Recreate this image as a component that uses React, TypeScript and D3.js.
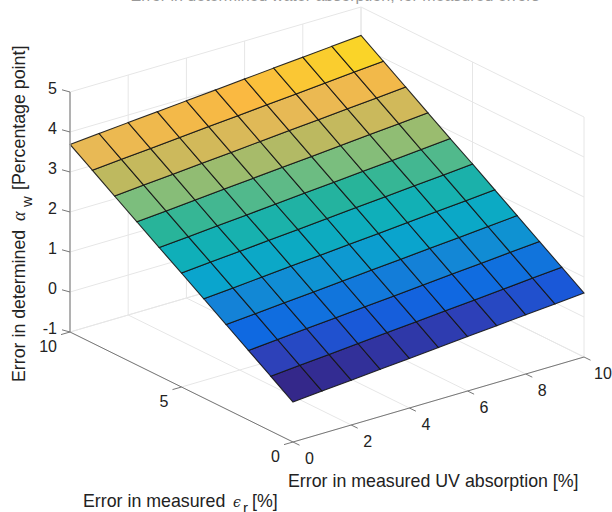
import React from "react";
import * as d3 from "d3";

// error in measured UV absorption [%]
const xValues = [0, 1, 2, 3, 4, 5, 6, 7, 8, 9, 10];
// error in measured epsilon_r [%]
const epsValues = [0, 1, 2, 3, 4, 5, 6, 7, 8, 9, 10];
// error in determined alpha_w, one row per epsilon value
const zRows = [
  [0.0, 0.06, 0.12, 0.18, 0.24, 0.3, 0.36, 0.42, 0.48, 0.54, 0.6],
  [0.37, 0.43, 0.49, 0.55, 0.61, 0.67, 0.73, 0.79, 0.85, 0.91, 0.97],
  [0.74, 0.8, 0.86, 0.92, 0.98, 1.04, 1.1, 1.16, 1.22, 1.28, 1.34],
  [1.11, 1.17, 1.23, 1.29, 1.35, 1.41, 1.47, 1.53, 1.59, 1.65, 1.71],
  [1.48, 1.54, 1.6, 1.66, 1.72, 1.78, 1.84, 1.9, 1.96, 2.02, 2.08],
  [1.85, 1.91, 1.97, 2.03, 2.09, 2.15, 2.21, 2.27, 2.33, 2.39, 2.45],
  [2.21, 2.27, 2.33, 2.39, 2.45, 2.51, 2.57, 2.63, 2.69, 2.75, 2.81],
  [2.58, 2.64, 2.7, 2.76, 2.82, 2.88, 2.94, 3.0, 3.06, 3.12, 3.18],
  [2.95, 3.01, 3.07, 3.13, 3.19, 3.25, 3.31, 3.37, 3.43, 3.49, 3.55],
  [3.32, 3.38, 3.44, 3.5, 3.56, 3.62, 3.68, 3.74, 3.8, 3.86, 3.92],
  [3.69, 3.75, 3.81, 3.87, 3.93, 3.99, 4.05, 4.11, 4.17, 4.23, 4.29],
];

const xTicks = [0, 2, 4, 6, 8, 10];
const epsTicks = [0, 5, 10];
const zTicks = [-1, 0, 1, 2, 3, 4, 5];

// colormap
const colorStops = [0, 0.37, 0.54, 0.74, 1.11, 1.48, 1.85, 2.21, 2.58, 2.95, 3.32, 3.62, 3.86];
const colorValues = [
  "#34288a", "#2d41b9", "#1a58d8", "#0f69e1", "#1482d7", "#0aa5cd", "#0fafb9",
  "#28b49a", "#7cbe7d", "#beb95f", "#e8b955", "#fab941", "#fad428",
];

const FONT = "'Liberation Sans', Arial, sans-serif";
const TEXT = "#222";

// orthographic view: each data axis moves the point along its own screen direction
const xToPx = d3.scaleLinear().domain([0, 10]).range([0, 291]);
const xToPy = d3.scaleLinear().domain([0, 10]).range([0, -85]);
const eToPx = d3.scaleLinear().domain([0, 10]).range([0, -223]);
const eToPy = d3.scaleLinear().domain([0, 10]).range([0, -110]);
const zToPy = d3.scaleLinear().domain([-1, 5]).range([0, -240]);
const originX = 293;
const originY = 442;

const project = (x: number, e: number, z: number): [number, number] => [
  originX + xToPx(x) + eToPx(e),
  originY + xToPy(x) + eToPy(e) + zToPy(z),
];

const color = d3
  .scaleLinear<string>()
  .domain(colorStops)
  .range(colorValues)
  .interpolate(d3.interpolateRgb)
  .clamp(true);

const line = d3.line();

const [x0, x1] = d3.extent(xValues) as [number, number];
const [e0, e1] = d3.extent(epsValues) as [number, number];
const zMin = zTicks[0];
const zMax = zTicks[zTicks.length - 1];

const Seg = ({ a, b, stroke, w = 1 }: any) => (
  <line x1={a[0]} y1={a[1]} x2={b[0]} y2={b[1]} stroke={stroke} strokeWidth={w} />
);

export default function App() {
  const grid = "#e6e6e6";
  const axis = "#777";

  const label = (p: [number, number], t: number, anchor = "middle") => (
    <text key={`${p[0]}-${t}`} x={p[0]} y={p[1]} textAnchor={anchor} fontSize={16} fill={TEXT}>
      {t}
    </text>
  );

  return (
    <svg
      width={612}
      height={512}
      style={{ position: "absolute", left: 0, top: 0 }}
      fontFamily={FONT}
    >
      {/* title runs off the top edge in the source */}
      <text x={335} y={1} textAnchor="middle" fontSize={16} fill="#999">
        Error in determined water absorption, for measured errors
      </text>

      {/* walls and floor grid */}
      {xTicks.map((t) => (
        <g key={`gx${t}`}>
          <Seg a={project(t, e0, zMin)} b={project(t, e1, zMin)} stroke={grid} />
          <Seg a={project(t, e1, zMin)} b={project(t, e1, zMax)} stroke={grid} />
        </g>
      ))}
      {epsTicks.map((t) => (
        <g key={`ge${t}`}>
          <Seg a={project(x0, t, zMin)} b={project(x1, t, zMin)} stroke={grid} />
          <Seg a={project(x1, t, zMin)} b={project(x1, t, zMax)} stroke={grid} />
        </g>
      ))}
      {zTicks.map((t) => (
        <g key={`gz${t}`}>
          <Seg a={project(x0, e1, t)} b={project(x1, e1, t)} stroke={grid} />
          <Seg a={project(x1, e1, t)} b={project(x1, e0, t)} stroke={grid} />
        </g>
      ))}

      {/* surface */}
      {epsValues.slice(0, -1).map((e, j) =>
        xValues.slice(0, -1).map((x, i) => {
          const x2 = xValues[i + 1];
          const e2 = epsValues[j + 1];
          const corners = [
            project(x, e, zRows[j][i]),
            project(x2, e, zRows[j][i + 1]),
            project(x2, e2, zRows[j + 1][i + 1]),
            project(x, e2, zRows[j + 1][i]),
          ];
          return (
            <path
              key={`${i}-${j}`}
              d={line(corners) + "Z"}
              fill={color(zRows[j][i])}
              stroke="#151515"
              strokeOpacity={0.9}
              strokeWidth={1.1}
            />
          );
        })
      )}

      {/* axes */}
      <Seg a={project(x0, e1, zMin)} b={project(x0, e1, zMax)} stroke="#a0a0a0" w={1.6} />
      <Seg a={project(x0, e0, zMin)} b={project(x1, e0, zMin)} stroke={axis} />
      <Seg a={project(x0, e0, zMin)} b={project(x0, e1, zMin)} stroke={axis} />

      {zTicks.map((t) => {
        const p = project(x0, e1, t);
        return (
          <g key={`tz${t}`}>
            <Seg a={p} b={[p[0] - 8, p[1] - 2.2]} stroke={axis} />
            {label([p[0] - 13, p[1] + 2], t, "end")}
          </g>
        );
      })}
      {xTicks.map((t) => {
        const p = project(t, e0, zMin);
        return (
          <g key={`tx${t}`}>
            <Seg a={p} b={[p[0] + 6.5, p[1] + 3.2]} stroke={axis} />
            {label([Math.min(p[0] + 12, 594), p[1] + 21.5], t, "start")}
          </g>
        );
      })}
      {epsTicks.map((t) => {
        const p = project(x0, t, zMin);
        return (
          <g key={`te${t}`}>
            <Seg a={p} b={[p[0] - 9, p[1] + 2.6]} stroke={axis} />
            {label([p[0] - 13, p[1] + 20], t, "end")}
          </g>
        );
      })}

      {/* axis titles */}
      <text x={288} y={487} fontSize={17.8} fill={TEXT}>
        Error in measured UV absorption [%]
      </text>
      <text y={507} fontSize={17.8} fill={TEXT}>
        <tspan x={83}>Error in measured</tspan>
        <tspan x={233} fontFamily="'DejaVu Serif', serif" fontStyle="italic" fontSize={14}>
          ϵ
        </tspan>
        <tspan x={243} dy={6} fontSize={15}>r</tspan>
        <tspan x={252} dy={-6}>[%]</tspan>
      </text>
      <text transform="translate(25,382) rotate(-90)" fontSize={17.8} fill={TEXT}>
        <tspan x={0}>Error in determined</tspan>
        <tspan x={161} fontFamily="'Liberation Serif', serif" fontStyle="italic" fontSize={18}>
          α
        </tspan>
        <tspan x={175} dy={7} fontSize={15}>w</tspan>
        <tspan x={192} dy={-7}>[Percentage point]</tspan>
      </text>
    </svg>
  );
}
